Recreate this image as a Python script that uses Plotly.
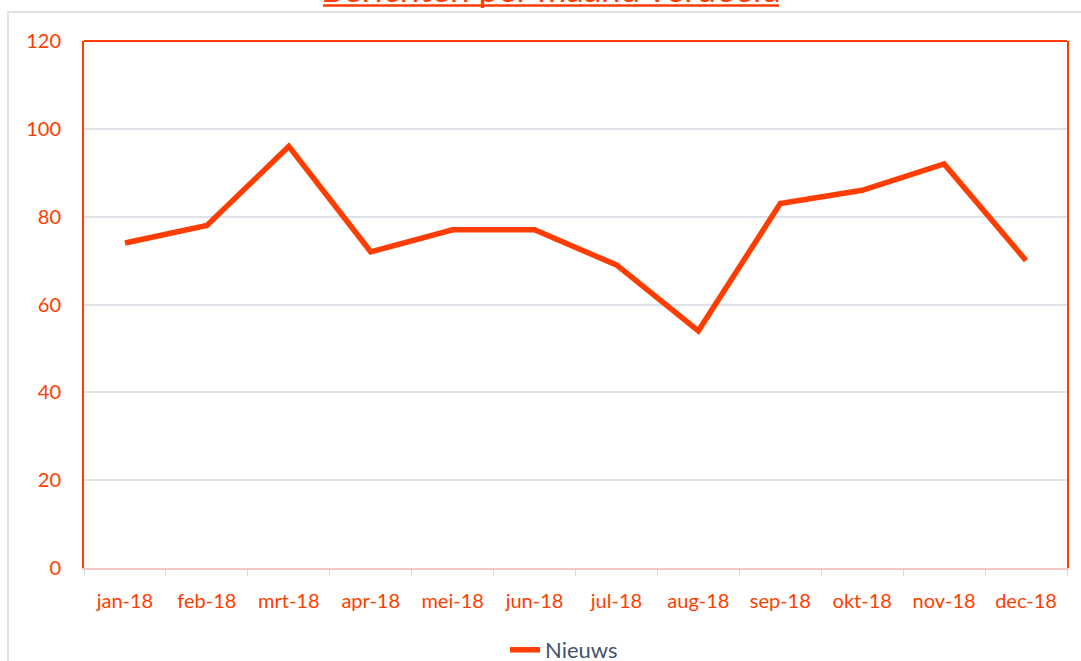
import plotly.graph_objects as go

# Datos
maanden = ["jan-18", "feb-18", "mrt-18", "apr-18", "mei-18", "jun-18",
           "jul-18", "aug-18", "sep-18", "okt-18", "nov-18", "dec-18"]
nieuws = [74, 78, 96, 72, 77, 77, 69, 54, 83, 86, 92, 70]

rood = "#FF3D00"
font_family = "Lato, 'Open Sans', sans-serif"

fig = go.Figure()

fig.add_trace(go.Scatter(x=maanden, y=nieuws, mode="lines", name="Nieuws",
                         line=dict(color=rood, width=5.5)))

# Márgenes en píxeles para que el área del gráfico coincida
W, H = 1081, 661
L, R, T, B = 84, 14, 41, 93
pw, ph = W - L - R, H - T - B

def px_x(x):
    return (x - L) / pw

def px_y(y):
    return (H - B - y) / ph

fig.update_layout(
    width=W, height=H,
    margin=dict(l=L, r=R, t=T, b=B, autoexpand=False),
    paper_bgcolor="white", plot_bgcolor="white",
    font=dict(family=font_family, size=20, color=rood),
    showlegend=True,
    legend=dict(orientation="h", x=px_x(564), xanchor="center",
                yref="container", y=1 - 629 / H, yanchor="top",
                font=dict(size=22, color="#44546A")),
)

fig.update_xaxes(
    type="category", range=[-0.5, len(maanden) - 0.5], automargin=False,
    showgrid=False,
    showline=True, linecolor="#F4C7C3", linewidth=2,
    ticks="outside", tickson="boundaries", ticklen=6, tickcolor="#D6DCE4",
    tickfont=dict(size=20, color=rood), ticklabelstandoff=14,
)

fig.update_yaxes(
    range=[0, 120], dtick=20, automargin=False,
    showgrid=True, gridcolor="#DDE1E8", gridwidth=1.5,
    showline=True, linecolor=rood, linewidth=2, mirror=True,
    zeroline=False, ticks="", tickfont=dict(size=20, color=rood),
    ticklabelstandoff=17,
)

# Línea superior del recuadro y borde exterior del gráfico
fig.add_shape(type="line", xref="paper", yref="paper", x0=0, x1=1, y0=1, y1=1,
              line=dict(color=rood, width=2))
fig.add_shape(type="rect", xref="paper", yref="paper",
              x0=px_x(8), x1=px_x(1200), y0=px_y(12), y1=px_y(800),
              line=dict(color="#DDE1E8", width=2), layer="below")

# Título cortado en la parte superior, subrayado
fig.add_annotation(text="Berichten per maand verdeeld", xref="paper", yref="paper",
                   x=px_x(551), y=px_y(11), xanchor="center", yanchor="bottom",
                   showarrow=False, font=dict(size=35, color=rood))
fig.add_shape(type="line", xref="paper", yref="paper",
              x0=px_x(323), x1=px_x(779), y0=px_y(5.5), y1=px_y(5.5),
              line=dict(color=rood, width=2.5))

# Quitar el margen del body para que la figura empiece en (0, 0)
fig.write_html("out.html", config={"displayModeBar": False},
               post_script="document.body.style.margin='0';")
